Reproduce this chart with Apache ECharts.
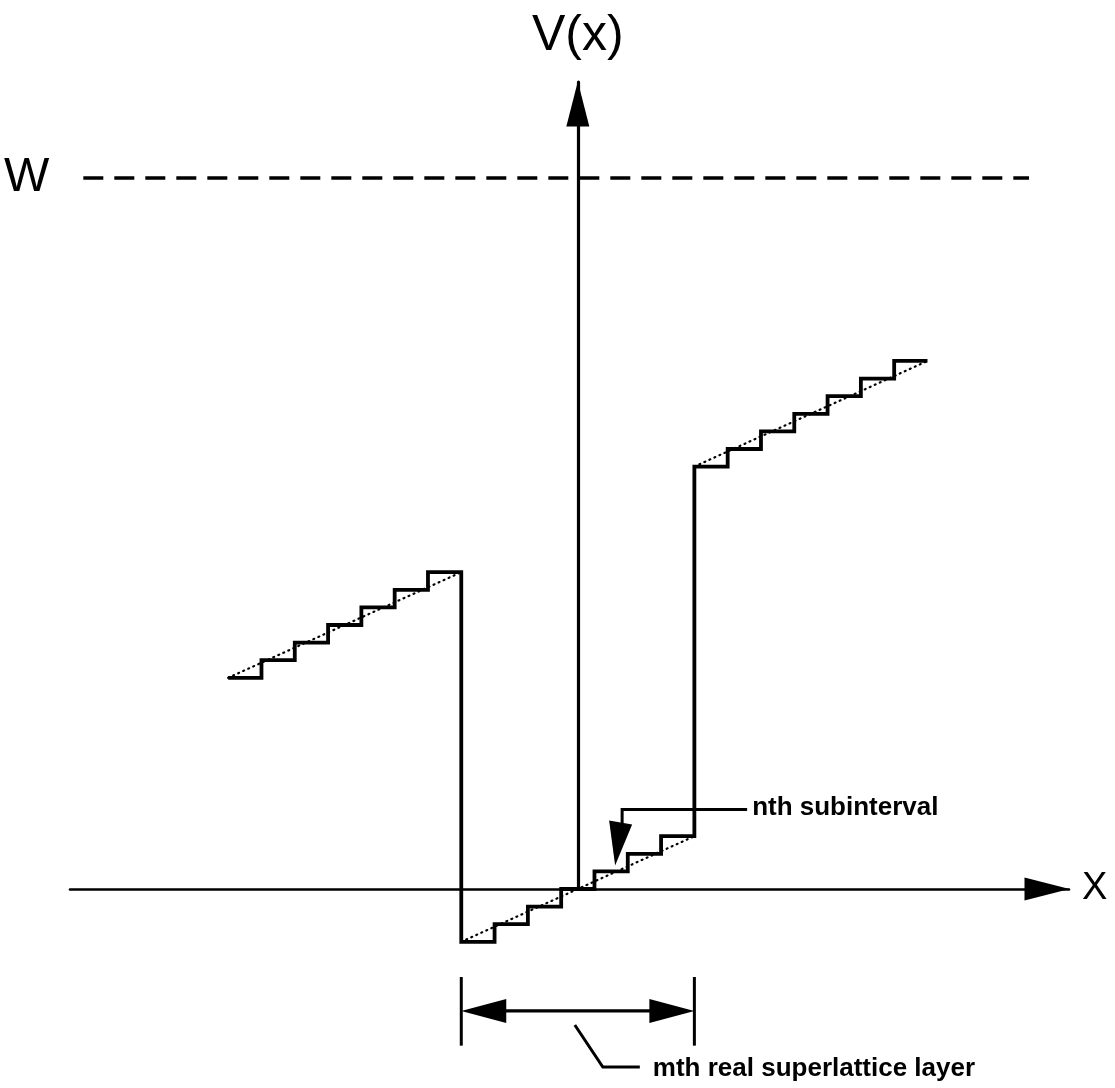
<!DOCTYPE html>
<html><head><meta charset="utf-8">
<script src="https://cdn.jsdelivr.net/npm/echarts@6/dist/echarts.min.js"></script>
<style>html,body{margin:0;padding:0;background:#fff}#c{width:1115px;height:1088px}</style>
</head><body><div id="c"></div>
<script>
// ---- data ----
const leftCenters  = [-10, -9, -8, -7, -6, -5, -4];
const leftValues   = [12, 13, 14, 15, 16, 17, 18];
const midCenters   = [-3, -2, -1, 0, 1, 2, 3];
const midValues    = [-3, -2, -1, 0, 1, 2, 3];
const rightCenters = [4, 5, 6, 7, 8, 9, 10];
const rightValues  = [24, 25, 26, 27, 28, 29, 30];
const leftTrend  = [[-10.5, 12], [-3.5, 18]];
const midTrend   = [[-3.5, -3], [3.5, 3]];
const rightTrend = [[3.5, 24], [10.5, 30]];
const wLevel = 40.4;
const wSpan = [-14.85, 13.55];
const layerSpan = [-3.5, 3.5];
const nthCenter = 1;
const nthValue = 1;
const dimLevel = -6.93;
const dimTick = [-5.0, -8.9];
const yAxisName = 'V(x)';
const xAxisName = 'X';
const wName = 'W';
const nthNote = 'nth subinterval';
const mthNote = 'mth real superlattice layer';

const FONT = 'Liberation Sans, Arial, Helvetica, sans-serif';

function buildSteps(centers, values) {
  const pts = [];
  centers.forEach((c, i) => { pts.push([c - 0.5, values[i]]); pts.push([c + 0.5, values[i]]); });
  return pts;
}
const stepPoints = [].concat(
  buildSteps(leftCenters, leftValues),
  buildSteps(midCenters, midValues),
  buildSteps(rightCenters, rightValues)
);

const chart = echarts.init(document.getElementById('c'), null, {renderer: 'canvas'});
const axisCommon = {
  type: 'value',
  axisTick: {show: false}, axisLabel: {show: false}, splitLine: {show: false},
};
const dotted = {color: '#000', width: 2.2, type: [1, 4.5], cap: 'round'};
chart.setOption({
  animation: false,
  backgroundColor: '#fff',
  grid: {left: 70, top: 82, width: 999, height: 807},
  xAxis: Object.assign({}, axisCommon, {
    min: -15.25, max: 14.75,
    axisLine: {onZero: true, symbol: ['none', 'triangle'], symbolSize: [23, 45], symbolOffset: [0, -22],
      lineStyle: {color: '#000', width: 2.6}},
    name: xAxisName, nameLocation: 'end', nameGap: 13,
    nameTextStyle: {fontFamily: FONT, fontSize: 38, color: '#000', verticalAlign: 'middle', align: 'left'}
  }),
  yAxis: Object.assign({}, axisCommon, {
    min: 0, max: 45.85,
    axisLine: {onZero: true, symbol: ['none', 'triangle'], symbolSize: [23, 45], symbolOffset: [0, -22],
      lineStyle: {color: '#000', width: 3.2}},
    name: yAxisName, nameLocation: 'end', nameGap: 46,
    nameTextStyle: {fontFamily: FONT, fontSize: 50, color: '#000', verticalAlign: 'middle', align: 'center'}
  }),
  series: [
    {type: 'line', name: 'potential', data: stepPoints, showSymbol: false, symbol: 'none', clip: false,
      lineStyle: {color: '#000', width: 3.8, join: 'miter'}, z: 5},
    {type: 'line', name: 'trend-left', data: leftTrend, symbol: 'none', clip: false, lineStyle: dotted, z: 4},
    {type: 'line', name: 'trend-mid', data: midTrend, symbol: 'none', clip: false, lineStyle: dotted, z: 4},
    {type: 'line', name: 'trend-right', data: rightTrend, symbol: 'none', clip: false, lineStyle: dotted, z: 4},
    {type: 'line', name: 'W', data: [[wSpan[0], wLevel], [wSpan[1], wLevel]], symbol: 'none', clip: false,
      lineStyle: {color: '#000', width: 3.5, type: [20, 11]}, z: 4}
  ]
});

const P = (x, y) => chart.convertToPixel({gridIndex: 0}, [x, y]);
const g = [];
// W label
const wp = P(wSpan[0], wLevel);
g.push({type: 'text', style: {text: wName, x: wp[0] - 34, y: wp[1], align: 'right', verticalAlign: 'middle',
  fontFamily: FONT, fontSize: 48, fill: '#000'}});
// dimension arrow for m-th layer
const dl = P(layerSpan[0], dimLevel), dr = P(layerSpan[1], dimLevel);
const t1 = P(layerSpan[0], dimTick[0]), t2 = P(layerSpan[0], dimTick[1]);
const yd = dl[1];
g.push({type: 'line', shape: {x1: dl[0], y1: t1[1], x2: dl[0], y2: t2[1]}, style: {stroke: '#000', lineWidth: 3}});
g.push({type: 'line', shape: {x1: dr[0], y1: t1[1], x2: dr[0], y2: t2[1]}, style: {stroke: '#000', lineWidth: 3}});
g.push({type: 'line', shape: {x1: dl[0] + 40, y1: yd, x2: dr[0] - 40, y2: yd}, style: {stroke: '#000', lineWidth: 3.2}});
g.push({type: 'polygon', shape: {points: [[dl[0], yd], [dl[0] + 45, yd - 12], [dl[0] + 45, yd + 12]]}, style: {fill: '#000'}});
g.push({type: 'polygon', shape: {points: [[dr[0], yd], [dr[0] - 45, yd - 12], [dr[0] - 45, yd + 12]]}, style: {fill: '#000'}});
const cx = (dl[0] + dr[0]) / 2;
g.push({type: 'polyline', shape: {points: [[cx - 3, yd + 14], [cx + 25, yd + 56], [cx + 62, yd + 56]]},
  style: {stroke: '#000', lineWidth: 3, fill: null}});
g.push({type: 'text', style: {text: mthNote, x: cx + 75, y: yd + 58, align: 'left', verticalAlign: 'middle',
  fontFamily: FONT, fontSize: 26, fontWeight: 'bold', fill: '#000'}});
// nth subinterval pointer
const np = P(nthCenter, nthValue);
const tx = np[0] + 4, ty = np[1] - 6;
g.push({type: 'polygon', shape: {points: [[tx, ty], [tx - 6, ty - 45], [tx + 17, ty - 41]]}, style: {fill: '#000'}});
g.push({type: 'polyline', shape: {points: [[tx + 7, ty - 42], [tx + 7, ty - 56], [tx + 132, ty - 56]]},
  style: {stroke: '#000', lineWidth: 3, fill: null}});
g.push({type: 'text', style: {text: nthNote, x: tx + 137, y: ty - 58, align: 'left', verticalAlign: 'middle',
  fontFamily: FONT, fontSize: 26, fontWeight: 'bold', fill: '#000'}});
chart.setOption({graphic: g});
</script>
</body></html>
